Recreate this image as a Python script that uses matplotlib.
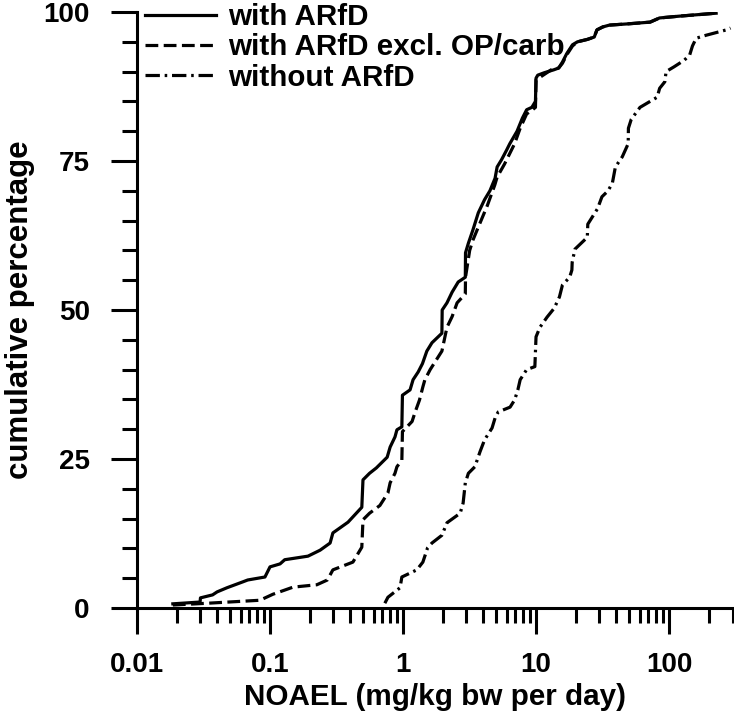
import matplotlib
matplotlib.use('Agg')
import matplotlib.pyplot as plt

plt.rcParams['font.family'] = ['Liberation Sans', 'DejaVu Sans']
plt.rcParams['font.weight'] = 'bold'

# ---- data ----
with_arfd_x = [0.0186, 0.0298, 0.030, 0.037, 0.040, 0.0475, 0.0627, 0.068, 0.0916, 0.10,
               0.119, 0.129, 0.193, 0.238, 0.283, 0.297, 0.386, 0.49, 0.50, 0.56,
               0.63, 0.76, 0.80, 0.87, 0.90, 0.98, 0.99, 1.13, 1.19, 1.30,
               1.40, 1.51, 1.65, 1.96, 1.97, 2.14, 2.34, 2.60, 2.94, 2.95,
               3.10, 3.35, 3.68, 4.10, 4.50, 4.92, 5.10, 5.50, 6.00, 6.35,
               7.20, 7.90, 8.50, 9.30, 9.90, 10.0, 10.3, 11.5, 13.6, 14.8,
               15.8, 17.0, 18.8, 20.5, 24.3, 27.4, 28.7, 31.8, 35.6, 48.4,
               72.0, 84.8, 119.0, 226.0]
with_arfd_y = [0.7, 1.0, 1.7, 2.2, 2.7, 3.4, 4.4, 4.7, 5.2, 6.9,
               7.4, 8.1, 8.7, 9.7, 10.9, 12.6, 14.4, 16.9, 21.5, 22.6,
               23.5, 25.3, 27.0, 28.7, 29.9, 30.4, 35.7, 36.6, 38.3, 39.6,
               41.0, 43.1, 44.5, 46.1, 50.0, 51.2, 53.0, 54.7, 55.5, 59.6,
               61.2, 63.4, 66.3, 68.5, 70.0, 72.1, 74.0, 75.2, 76.8, 77.9,
               80.0, 82.2, 83.6, 84.0, 85.0, 88.9, 89.4, 89.8, 90.3, 90.6,
               91.6, 93.0, 94.5, 95.0, 95.4, 95.8, 97.0, 97.5, 97.8, 98.0,
               98.3, 99.0, 99.3, 99.8]

excl_x = [0.0186, 0.034, 0.084, 0.105, 0.149, 0.225, 0.27, 0.297, 0.42, 0.49,
          0.50, 0.56, 0.67, 0.77, 0.80, 0.87, 0.90, 0.98, 0.99, 1.17,
          1.23, 1.33, 1.41, 1.46, 1.60, 1.80, 1.96, 2.14, 2.34, 2.55,
          2.94, 2.95, 3.17, 3.35, 3.68, 4.30, 4.90, 5.10, 5.80, 6.90,
          7.60, 8.50, 9.30, 9.90, 10.0, 13.0, 14.8, 15.8, 17.0, 18.8,
          20.5, 24.3, 27.4, 28.7, 31.8, 35.6, 48.4, 72.0, 84.8, 119.0,
          226.0]
excl_y = [0.5, 0.8, 1.3, 2.3, 3.5, 3.9, 4.7, 6.4, 7.7, 10.2,
          14.8, 15.9, 17.2, 19.3, 21.0, 22.6, 23.7, 24.8, 29.6, 31.3,
          32.8, 34.9, 37.1, 38.3, 40.0, 41.8, 43.1, 47.1, 48.9, 51.2,
          52.7, 55.5, 60.0, 61.7, 63.9, 67.5, 71.0, 72.3, 74.5, 77.9,
          80.5, 82.9, 83.5, 84.0, 88.6, 90.3, 90.6, 91.4, 92.8, 94.3,
          95.0, 95.4, 95.8, 97.0, 97.5, 97.8, 98.0, 98.3, 99.0, 99.3,
          99.8]

without_x = [0.73, 0.77, 0.95, 0.98, 1.27, 1.41, 1.53, 1.65, 1.96, 2.14,
             2.69, 2.83, 2.94, 3.10, 3.47, 3.79, 4.10, 4.67, 4.94, 5.20,
             6.38, 6.90, 7.30, 7.60, 8.50, 9.80, 10.0, 10.7, 12.1, 13.7,
             15.0, 15.8, 17.9, 18.6, 18.7, 19.6, 24.3, 24.5, 29.0, 31.3,
             34.8, 37.5, 39.5, 44.5, 49.3, 49.5, 52.0, 60.5, 81.4, 85.0,
             93.0, 95.0, 109.0, 130.0, 143.0, 150.0, 160.0, 190.0, 270.0, 290.0]
without_y = [0.8, 1.8, 3.4, 5.2, 6.4, 7.7, 10.1, 10.9, 12.2, 14.3,
             15.9, 17.6, 21.0, 22.6, 23.7, 26.2, 28.2, 30.2, 32.0, 32.9,
             33.7, 34.9, 36.6, 38.3, 40.0, 40.5, 45.5, 47.1, 48.8, 50.3,
             52.2, 54.2, 55.5, 56.7, 58.0, 60.2, 62.2, 64.4, 67.0, 69.0,
             70.0, 71.3, 74.0, 75.7, 77.9, 80.5, 82.0, 84.0, 85.7, 87.2,
             88.3, 90.0, 90.8, 91.9, 92.8, 94.3, 95.6, 96.1, 97.0, 97.3]

labels = ['with ARfD', 'with ARfD excl. OP/carb', 'without ARfD']
x_major = [0.01, 0.1, 1, 10, 100]
x_major_labels = ['0.01', '0.1', '1', '10', '100']
y_major = [0, 25, 50, 75, 100]

# ---- figure ----
W, H = 734, 725
fig = plt.figure(figsize=(W / 100, H / 100), dpi=100)
ax = fig.add_axes([137 / W, 117 / H, (732.5 - 137) / W, 596 / H])

lw = 2.3
ax.plot(with_arfd_x, with_arfd_y, color='black', lw=lw, linestyle='-', label=labels[0])
ax.plot(excl_x, excl_y, color='black', lw=lw, linestyle=(0, (4, 1.7)), label=labels[1])
ax.plot(without_x, without_y, color='black', lw=lw, linestyle=(0, (4.5, 1.5, 0.8, 1.5)), label=labels[2])

ax.set_xscale('log')
ax.set_xlim(0.01, 300)
ax.set_ylim(0, 100)

minor = [m * 10.0 ** e for e in range(-2, 3) for m in range(2, 10) if m * 10.0 ** e <= 300]
ax.set_xticks(x_major, x_major_labels)
ax.set_xticks(minor, minor=True)
ax.set_xticklabels([], minor=True)
ax.set_yticks(y_major, [str(v) for v in y_major])
ax.set_yticks(range(0, 101, 5), minor=True)

for s in ['top', 'right']:
    ax.spines[s].set_visible(False)
for s in ['left', 'bottom']:
    ax.spines[s].set_linewidth(2.2)

ax.tick_params(which='major', length=19, width=2.2, direction='out', labelsize=20)
ax.tick_params(which='minor', length=10.5, width=2.2, direction='out')
ax.tick_params(axis='x', which='major', pad=13)
ax.tick_params(axis='y', which='major', pad=15)

ax.set_xlabel('NOAEL (mg/kg bw per day)', fontsize=21.3, fontweight='bold', labelpad=3)
ax.set_ylabel('cumulative percentage', fontsize=22.5, fontweight='bold', labelpad=6)

leg = ax.legend(loc='upper left', bbox_to_anchor=(145 / W, 1 - 3 / H),
                bbox_transform=fig.transFigure, frameon=False,
                prop={'size': 21.3, 'weight': 'bold'},
                handlelength=2.4, handletextpad=0.4, labelspacing=0.08,
                borderpad=0, borderaxespad=0)

fig.savefig('out.png', dpi=100)
